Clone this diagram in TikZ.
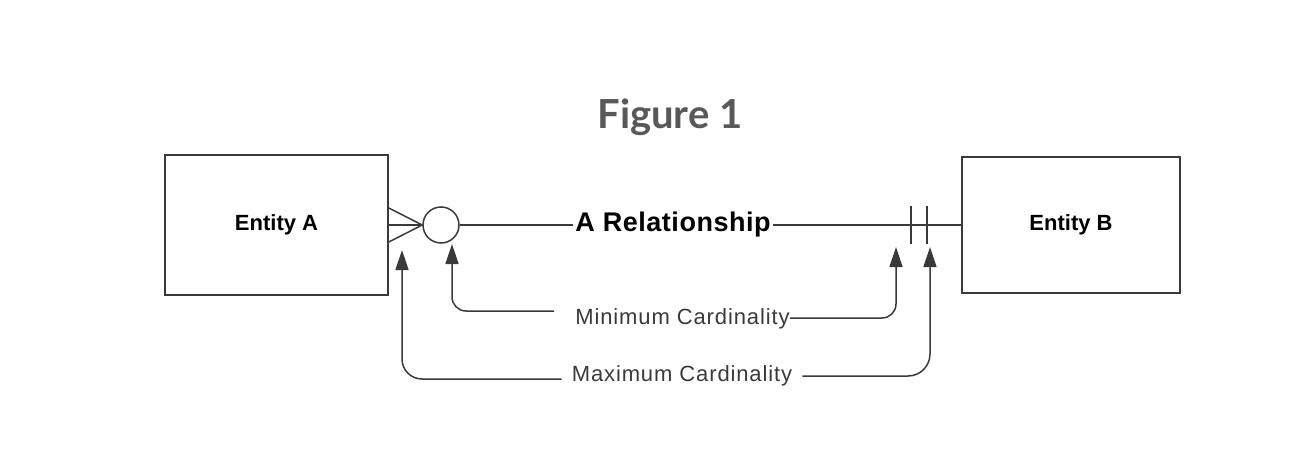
\documentclass[tikz,border=0pt]{standalone}
\usepackage{fontspec}
\setmainfont{Liberation Sans}
\newfontfamily\titlefont{Lato}
\newfontfamily\relfont[LetterSpace=2]{Liberation Sans}
\newfontfamily\cardfont[LetterSpace=4]{Liberation Sans}
\usetikzlibrary{arrows.meta}
\definecolor{linegray}{HTML}{3A3A3A}
\definecolor{titlegray}{HTML}{595959}

\begin{document}
\begin{tikzpicture}[x=1pt, y=-1pt,
    line/.style={draw=linegray, line width=1.5pt},
    pointer/.style={line, -{Triangle[width=13pt,length=20pt]}},
    entity/.style={draw=linegray, line width=1.6pt, inner sep=0pt, font=\fontsize{22}{26}\selectfont\bfseries},
    cardtext/.style={inner sep=0pt, text=linegray, font=\cardfont\fontsize{22}{26}\selectfont}]
    \useasboundingbox (0,0) rectangle (1297,457);

    \node[font=\titlefont\fontsize{40}{44}\selectfont\bfseries, text=titlegray] (title) at (670,117) {Figure 1};

    % the two entities
    \node[entity, minimum width=223pt, minimum height=140pt] (entA) at (276.5,225) {Entity A};
    \node[entity, minimum width=218pt, minimum height=136pt] (entB) at (1071,225) {Entity B};

    % optional circle and relationship line
    \node[circle, line, minimum size=36pt, inner sep=0pt] (opt) at (441,225) {};
    \node[inner xsep=2pt, inner ysep=0pt, font=\relfont\fontsize{27}{30}\selectfont\bfseries] (rel) at (673,225) {A Relationship};

    \draw[line] (entA.east) -- (opt.west);
    \draw[line] (opt.east) -- (rel.west);
    \draw[line] (rel.east) -- (entB.west);

    % crow's foot
    \draw[line] ([yshift=17pt]entA.east) -- (opt.west) -- ([yshift=-17pt]entA.east);

    % one and only one
    \foreach \bx in {911,927}
        \draw[line] (\bx,206) -- (\bx,244);

    % arrow tips
    \coordinate (minA) at (452,244);
    \coordinate (maxA) at (402,250);
    \coordinate (minB) at (896,247);
    \coordinate (maxB) at (930,247);

    \node[cardtext] (mintxt) at (682.5,319) {Minimum Cardinality};
    \node[cardtext] (maxtxt) at (682,376) {Maximum Cardinality};

    \draw[pointer, rounded corners=14pt] (mintxt.west) ++(-21,-8) -| (minA);
    \draw[pointer, rounded corners=14pt] (mintxt.east) ++(0,-1) -| (minB);
    \draw[pointer, rounded corners=20pt] (maxtxt.west) ++(-10,3) -| (maxA);
    \draw[pointer, rounded corners=22pt] (maxtxt.east) ++(10,0) -| (maxB);
\end{tikzpicture}
\end{document}
